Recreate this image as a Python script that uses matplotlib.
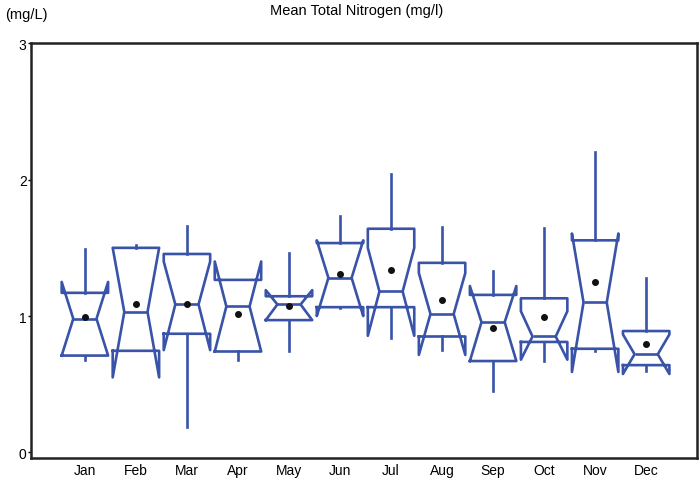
import matplotlib
matplotlib.use("Agg")
import matplotlib.pyplot as plt
from matplotlib.ticker import MultipleLocator

plt.rcParams["font.family"] = ["Liberation Sans", "DejaVu Sans"]

months = ["Jan", "Feb", "Mar", "Apr", "May", "Jun",
          "Jul", "Aug", "Sep", "Oct", "Nov", "Dec"]
whislo = [0.68, 0.74, 0.19, 0.68, 0.745, 1.06, 0.84, 0.75, 0.45, 0.67, 0.74, 0.60]
q1 = [0.71, 0.745, 0.87, 0.74, 0.97, 1.065, 1.065, 0.85, 0.67, 0.81, 0.76, 0.64]
notch_lo = [0.71, 0.55, 0.75, 0.74, 0.97, 1.00, 0.855, 0.715, 0.67, 0.68, 0.59, 0.575]
med = [0.98, 1.03, 1.085, 1.07, 1.085, 1.28, 1.18, 1.015, 0.955, 0.85, 1.10, 0.72]
notch_hi = [1.25, 1.50, 1.40, 1.40, 1.19, 1.555, 1.50, 1.315, 1.22, 1.035, 1.605, 0.865]
q3 = [1.17, 1.50, 1.455, 1.265, 1.145, 1.535, 1.64, 1.39, 1.155, 1.13, 1.555, 0.89]
whishi = [1.49, 1.52, 1.66, 1.265, 1.465, 1.735, 2.045, 1.65, 1.33, 1.645, 2.205, 1.28]
means = [0.99, 1.09, 1.085, 1.015, 1.075, 1.31, 1.335, 1.12, 0.915, 0.99, 1.25, 0.795]


def main() -> None:
    stats = []
    for i, m in enumerate(months):
        stats.append({
            "label": m,
            "whislo": whislo[i], "q1": q1[i], "med": med[i], "q3": q3[i],
            "whishi": whishi[i], "cilo": notch_lo[i], "cihi": notch_hi[i],
            "mean": means[i], "fliers": [],
        })

    blue = "#3853a8"
    fig = plt.figure(figsize=(7.0, 4.81), dpi=100)
    ax = fig.add_axes([0.044, 0.046, 0.952, 0.862])

    ax.bxp(stats, positions=range(1, 13), widths=0.91, shownotches=True,
           showmeans=True, showcaps=False, showfliers=False, manage_ticks=False,
           boxprops=dict(color=blue, linewidth=1.9),
           whiskerprops=dict(color=blue, linewidth=1.9),
           medianprops=dict(color=blue, linewidth=1.9),
           meanprops=dict(marker="o", markerfacecolor="#111111",
                          markeredgecolor="#111111", markersize=4))

    ax.set_xlim(-0.06, 13.0)
    ax.set_ylim(-0.04, 3.0)
    ax.set_xticks(range(1, 13))
    ax.set_xticklabels(months)
    ax.set_yticks([0, 1, 2, 3])
    ax.yaxis.set_minor_locator(MultipleLocator(0.2))
    ax.tick_params(axis="x", length=0, labelsize=10, pad=4)
    ax.tick_params(axis="y", which="major", length=2, width=1, labelsize=10, pad=1)
    ax.tick_params(axis="y", which="minor", length=1, width=0.5, color="#888888")
    for s in ax.spines.values():
        s.set_linewidth(1.8)
        s.set_color("#222222")

    fig.text(0.51, 0.978, "Mean Total Nitrogen (mg/l)", ha="center", va="center", fontsize=10.5)
    fig.text(0.007, 0.968, "(mg/L)", ha="left", va="center", fontsize=10.5)

    fig.savefig("out.png", dpi=100)
    plt.close(fig)


if __name__ == "__main__":
    main()
